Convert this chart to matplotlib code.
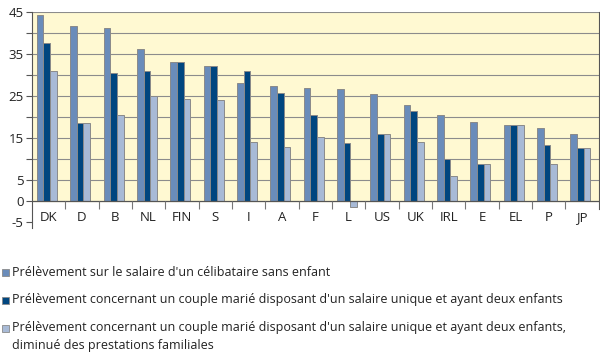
import matplotlib.pyplot as plt
from matplotlib.patches import Rectangle
import numpy as np

# --- données ---
pays = ["DK", "D", "B", "NL", "FIN", "S", "I", "A", "F", "L", "US", "UK",
        "IRL", "E", "EL", "P", "JP"]
celibataire = [44.3, 41.8, 41.3, 36.1, 33.0, 32.2, 28.2, 27.5, 26.9, 26.6,
               25.6, 22.9, 20.5, 18.8, 18.0, 17.5, 16.0]
couple = [37.7, 18.6, 30.6, 30.9, 33.0, 32.2, 30.9, 25.7, 20.6, 13.9,
          16.0, 21.5, 10.0, 8.9, 18.0, 13.3, 12.6]
couple_net = [30.9, 18.6, 20.6, 25.1, 24.4, 24.1, 14.1, 12.8, 15.2, -1.4,
              16.0, 14.0, 5.9, 8.9, 18.0, 8.7, 12.6]

labels = [
    "Prélèvement sur le salaire d'un célibataire sans enfant",
    "Prélèvement concernant un couple marié disposant d'un salaire unique et ayant deux enfants",
    "Prélèvement concernant un couple marié disposant d'un salaire unique et ayant deux enfants,\ndiminué des prestations familiales",
]
couleurs = ["#6a8cba", "#00467f", "#a8bad6"]

plt.rcParams['font.family'] = ['Open Sans', 'DejaVu Sans']

W, H = 600, 355
fig = plt.figure(figsize=(6, 3.55), dpi=100)
ax = fig.add_axes([0.053, 0.357, 0.945, 0.609])

x = np.arange(len(pays))
w = 0.2

# fond jaune au-dessus de zéro seulement
ax.axhspan(0, 45, color="#fff9d2", zorder=0)
for v in range(5, 50, 5):
    ax.axhline(v, color="#8c8c8c", lw=0.8, zorder=1)

for k, (vals, c) in enumerate(zip([celibataire, couple, couple_net], couleurs)):
    ax.bar(x + (k - 1) * w - 0.05, vals, w, color=c, edgecolor="#8a8a8a",
           linewidth=0.7, zorder=3)

ax.axhline(0, color="#555555", lw=0.9, zorder=4)
# petits traits de séparation sous l'axe
ax.vlines(x[:-1] + 0.5, -2.0, 0, color="#777777", lw=0.8, zorder=4)

for i, p in enumerate(pays):
    ax.text(i, -4.0, p, ha="center", va="center", fontsize=9.5, color="#222222")

ax.set_xlim(-0.5, len(pays) - 0.5)
ax.set_ylim(-6.5, 45)
ax.set_yticks(range(-5, 50, 5))
ax.set_yticklabels([str(v) if v in (-5, 0, 5, 15, 25, 35, 45) else "" for v in range(-5, 50, 5)],
                   fontsize=9.5, color="#222222")
ax.tick_params(axis="y", length=4, color="#555555", pad=2)
ax.set_xticks([])
for s in ["top", "bottom"]:
    ax.spines[s].set_visible(False)
ax.spines["left"].set_color("#555555")
ax.spines["right"].set_color("#555555")
ax.spines["right"].set_bounds(-2.0, 45)

# --- légende dessinée à la main (carré + texte) ---
y_px = [272, 300, 328]
for lab, c, yp in zip(labels, couleurs, y_px):
    fig.patches.append(Rectangle((1.5 / W, 1 - (yp + 3.5) / H), 7 / W, 7 / H,
                                 transform=fig.transFigure, facecolor=c,
                                 edgecolor="#8a8a8a", linewidth=0.6))
    fig.text(12 / W, 1 - (yp - 6.5) / H, lab, ha="left", va="top",
             fontsize=9, color="#222222", linespacing=1.45)

fig.savefig("out.png", dpi=100)
